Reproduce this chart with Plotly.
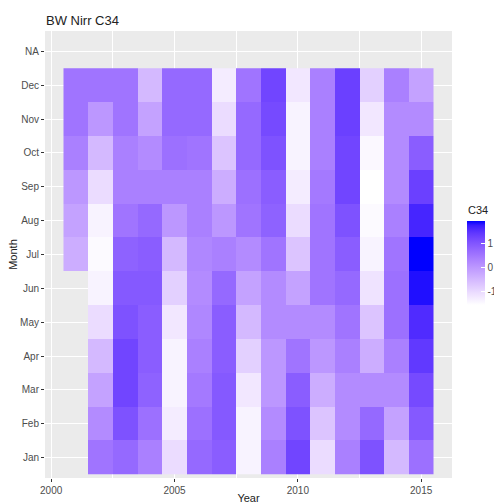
import plotly.graph_objects as go

# ---------------- data ----------------
years = [2001, 2002, 2003, 2004, 2005, 2006, 2007, 2008, 2009, 2010, 2011, 2012, 2013, 2014, 2015]
month_labels = ["Jan", "Feb", "Mar", "Apr", "May", "Jun", "Jul", "Aug", "Sep", "Oct", "Nov", "Dec", "NA"]

# C34 values per year, Jan..Dec (None = missing)
c34_2001 = [None, None, None, None, None, None, -0.33, -0.15, 0.03, 0.38, 0.55, 0.55]
c34_2002 = [0.55, 0.20, -0.15, -0.50, -1.03, -1.38, -1.48, -1.38, -1.03, -0.50, 0.03, 0.55]
c34_2003 = [0.73, 1.08, 1.25, 1.25, 1.08, 0.97, 0.83, 0.55, 0.38, 0.38, 0.55, 0.55]
c34_2004 = [0.38, 0.62, 0.83, 0.90, 0.90, 0.97, 0.90, 0.73, 0.38, 0.20, -0.15, -0.50]
c34_2005 = [-1.03, -1.27, -1.38, -1.38, -1.20, -0.85, -0.50, 0.03, 0.38, 0.62, 0.73, 0.73]
c34_2006 = [0.73, 0.62, 0.48, 0.38, 0.27, 0.20, 0.27, 0.38, 0.38, 0.55, 0.73, 0.73]
c34_2007 = [0.90, 0.97, 0.97, 0.90, 0.90, 0.73, 0.38, 0.03, -0.33, -0.68, -1.03, -1.27]
c34_2008 = [-1.38, -1.38, -1.20, -0.85, -0.50, -0.15, 0.20, 0.55, 0.62, 0.73, 0.73, 0.55]
c34_2009 = [0.38, 0.20, 0.03, 0.03, 0.20, 0.20, 0.55, 0.83, 0.90, 1.08, 1.18, 1.25]
c34_2010 = [1.25, 1.08, 0.90, 0.55, 0.20, -0.15, -0.68, -1.03, -1.27, -1.38, -1.38, -1.20]
c34_2011 = [-1.03, -0.68, -0.33, 0.03, 0.20, 0.55, 0.55, 0.55, 0.48, 0.38, 0.38, 0.38]
c34_2012 = [0.38, 0.20, 0.20, 0.38, 0.55, 0.73, 0.90, 1.08, 1.25, 1.25, 1.32, 1.32]
c34_2013 = [1.08, 0.73, 0.20, -0.33, -0.68, -1.13, -1.38, -1.48, -1.55, -1.45, -1.20, -0.85]
c34_2014 = [-0.50, -0.15, 0.20, 0.38, 0.62, 0.62, 0.55, 0.38, 0.20, 0.20, 0.20, 0.38]
c34_2015 = [0.62, 0.97, 1.18, 1.43, 1.60, 1.85, 1.95, 1.67, 1.32, 0.90, 0.20, -0.15]

legend_ticks = [-1, 0, 1]

columns = [c34_2001, c34_2002, c34_2003, c34_2004, c34_2005, c34_2006, c34_2007, c34_2008,
           c34_2009, c34_2010, c34_2011, c34_2012, c34_2013, c34_2014, c34_2015]
# z[row=month][col=year]
z = [[col[m] for col in columns] for m in range(12)]
month_pos = list(range(1, 13))

# --------- colour scale: white -> blue interpolated in CIE Lab (like ggplot) ---------
def srgb_to_lin(c):
    c = c / 255.0
    return c / 12.92 if c <= 0.04045 else ((c + 0.055) / 1.055) ** 2.4

def lin_to_srgb(c):
    c = max(0.0, min(1.0, c))
    v = 12.92 * c if c <= 0.0031308 else 1.055 * c ** (1 / 2.4) - 0.055
    return int(round(v * 255))

def rgb_to_lab(r, g, b):
    R, G, B = srgb_to_lin(r), srgb_to_lin(g), srgb_to_lin(b)
    X = 0.4124 * R + 0.3576 * G + 0.1805 * B
    Y = 0.2126 * R + 0.7152 * G + 0.0722 * B
    Z = 0.0193 * R + 0.1192 * G + 0.9505 * B
    Xn, Yn, Zn = 0.95047, 1.0, 1.08883
    def f(t):
        return t ** (1 / 3) if t > 0.008856 else 7.787 * t + 16 / 116
    fx, fy, fz = f(X / Xn), f(Y / Yn), f(Z / Zn)
    return 116 * fy - 16, 500 * (fx - fy), 200 * (fy - fz)

def lab_to_rgb(L, a, b):
    fy = (L + 16) / 116
    fx = fy + a / 500
    fz = fy - b / 200
    def finv(t):
        return t ** 3 if t ** 3 > 0.008856 else (t - 16 / 116) / 7.787
    X, Y, Z = 0.95047 * finv(fx), finv(fy), 1.08883 * finv(fz)
    R = 3.2406 * X - 1.5372 * Y - 0.4986 * Z
    G = -0.9689 * X + 1.8758 * Y + 0.0415 * Z
    B = 0.0557 * X - 0.2040 * Y + 1.0570 * Z
    return lin_to_srgb(R), lin_to_srgb(G), lin_to_srgb(B)

low = rgb_to_lab(255, 255, 255)
high = rgb_to_lab(0, 0, 255)
n = 20
colorscale = []
for i in range(n + 1):
    t = i / n
    L = low[0] + (high[0] - low[0]) * t
    A = low[1] + (high[1] - low[1]) * t
    Bb = low[2] + (high[2] - low[2]) * t
    r, g, b = lab_to_rgb(L, A, Bb)
    colorscale.append([t, f"rgb({r},{g},{b})"])

all_vals = [v for col in columns for v in col if v is not None]
zmin, zmax = min(all_vals), max(all_vals)

W, H = 494, 504
ML, MR, MT, MB = 45, 42, 31, 26
PW, PH = W - ML - MR, H - MT - MB

def px_x(px):
    return (px - ML) / PW

def px_y(py):
    return (H - MB - py) / PH

fig = go.Figure(go.Heatmap(
    x=years, y=month_pos, z=z,
    colorscale=colorscale, zmin=zmin, zmax=zmax,
    hoverongaps=False,
    colorbar=dict(
        xref="paper", x=px_x(467), xanchor="left",
        yref="paper", y=px_y(263), yanchor="middle",
        lenmode="pixels", len=84, thickness=18,
        outlinewidth=0,
        tickmode="array", tickvals=legend_ticks, ticktext=[str(v) for v in legend_ticks],
        ticks="inside", ticklen=4, tickcolor="white", tickwidth=1,
        tickfont=dict(size=10, color="#4D4D4D"),
        xpad=0, ypad=0,
    ),
))

fig.add_annotation(
    text="C34", xref="paper", yref="paper",
    x=px_x(466), y=px_y(210),
    xanchor="left", yanchor="middle", showarrow=False,
    font=dict(size=11, color="#222222"),
)

fig.update_layout(
    width=W, height=H,
    margin=dict(l=ML, r=MR, t=MT, b=MB, autoexpand=False),
    paper_bgcolor="white",
    plot_bgcolor="#EBEBEB",
    font=dict(family="Liberation Sans, Arial, sans-serif", color="#4D4D4D"),
    title=dict(text="BW Nirr C34", x=46 / W, xanchor="left", xref="container",
               y=1 - 20 / H, yanchor="middle", yref="container",
               font=dict(size=13, color="#222222")),
)

fig.update_xaxes(
    range=[1999.75, 2016.25], automargin=False,
    tickmode="array", tickvals=[2000, 2005, 2010, 2015],
    ticks="outside", ticklen=3, tickcolor="#333333",
    tickfont=dict(size=10, color="#4D4D4D"),
    showgrid=True, gridcolor="white", gridwidth=1.1,
    minor=dict(tickmode="array", tickvals=[2002.5, 2007.5, 2012.5], showgrid=True,
               gridcolor="white", gridwidth=0.5, ticks=""),
    zeroline=False, showline=False,
    title=dict(text="Year", font=dict(size=11, color="#222222"), standoff=0),
)
fig.update_yaxes(
    range=[0.4, 13.6], automargin=False,
    tickmode="array", tickvals=list(range(1, 14)), ticktext=month_labels,
    ticks="outside", ticklen=3, tickcolor="#333333",
    tickfont=dict(size=10, color="#4D4D4D"),
    showgrid=True, gridcolor="white", gridwidth=1.1,
    zeroline=False, showline=False,
    title=dict(text="Month", font=dict(size=11, color="#222222"), standoff=0),
)

fig.write_html("out.html")
